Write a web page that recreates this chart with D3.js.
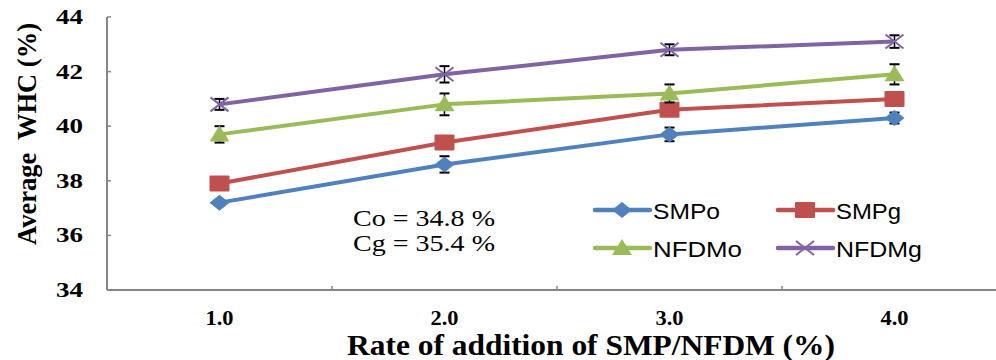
<!DOCTYPE html>
<html>
<head>
<meta charset="utf-8">
<script src="https://cdn.jsdelivr.net/npm/d3@7"></script>
<style>
  body { margin: 0; background: #fff; }
  svg { display: block; }
</style>
</head>
<body>
<svg id="chart" width="996" height="360"></svg>
<script>
// Data
var categories = ["1.0", "2.0", "3.0", "4.0"];
var seriesNames = ["SMPo", "SMPg", "NFDMo", "NFDMg"];
var smpo = [37.2, 38.6, 39.7, 40.3];
var smpg = [37.9, 39.4, 40.6, 41.0];
var nfdmo = [39.7, 40.8, 41.2, 41.9];
var nfdmg = [40.8, 41.9, 42.8, 43.1];
var smpoErr = [0.1, 0.3, 0.25, 0.2];
var smpgErr = [0.1, 0.2, 0.2, 0.2];
var nfdmoErr = [0.3, 0.4, 0.33, 0.37];
var nfdmgErr = [0.2, 0.3, 0.2, 0.23];
var yTicks = [34, 36, 38, 40, 42, 44];
var notes = ["Co = 34.8 %", "Cg = 35.4 %"];

var colors = ["#4F81BD", "#C0504D", "#9BBB59", "#8064A2"];
var series = [
  {name: seriesNames[0], values: smpo, err: smpoErr, color: colors[0], shape: "diamond"},
  {name: seriesNames[1], values: smpg, err: smpgErr, color: colors[1], shape: "square"},
  {name: seriesNames[2], values: nfdmo, err: nfdmoErr, color: colors[2], shape: "triangle"},
  {name: seriesNames[3], values: nfdmg, err: nfdmgErr, color: colors[3], shape: "cross"}
];

var svg = d3.select("#chart");
var plotLeft = 107, plotTop = 17, plotBottom = 290;
var serif = "'Liberation Serif', 'Times New Roman', serif";

var x = d3.scaleBand().domain(categories).range([plotLeft, plotLeft + 900]);
var y = d3.scaleLinear().domain([34, 44]).range([plotBottom, plotTop]);

// Axes
var axisColor = "#868686";
svg.append("line").attr("x1", plotLeft).attr("x2", 996).attr("y1", plotBottom).attr("y2", plotBottom)
  .attr("stroke", axisColor).attr("stroke-width", 2);
svg.append("line").attr("x1", plotLeft).attr("x2", plotLeft).attr("y1", plotTop).attr("y2", plotBottom)
  .attr("stroke", axisColor).attr("stroke-width", 2);

svg.selectAll(".ytick").data(yTicks).enter().append("line")
  .attr("x1", plotLeft).attr("x2", plotLeft + 4).attr("y1", function(d) { return y(d); }).attr("y2", function(d) { return y(d); })
  .attr("stroke", axisColor).attr("stroke-width", 1.5);
svg.selectAll(".ylab").data(yTicks).enter().append("text")
  .attr("x", 83).attr("y", function(d) { return y(d) + 7; })
  .attr("text-anchor", "end")
  .attr("textLength", 27).attr("lengthAdjust", "spacingAndGlyphs")
  .style("font", "bold 20px " + serif)
  .text(function(d) { return d; });

svg.selectAll(".xtick").data(categories.slice(1)).enter().append("line")
  .attr("x1", function(d) { return x(d); }).attr("x2", function(d) { return x(d); })
  .attr("y1", plotBottom - 4).attr("y2", plotBottom)
  .attr("stroke", axisColor).attr("stroke-width", 1.5);
svg.selectAll(".xlab").data(categories).enter().append("text")
  .attr("x", function(d) { return x(d) + x.bandwidth() / 2 - 14; }).attr("y", 325)
  .attr("textLength", 28).attr("lengthAdjust", "spacingAndGlyphs")
  .style("font", "bold 21px " + serif)
  .text(function(d) { return d; });

svg.append("text").attr("x", 347).attr("y", 355)
  .attr("textLength", 488).attr("lengthAdjust", "spacingAndGlyphs")
  .style("font", "bold 29px " + serif)
  .text("Rate of addition of SMP/NFDM (%)");
svg.append("text").attr("transform", "translate(36,245) rotate(-90)")
  .attr("textLength", 222).attr("lengthAdjust", "spacingAndGlyphs")
  .style("font", "bold 27px " + serif)
  .style("white-space", "pre")
  .text("Average  WHC (%)");

// Markers (a little wider than tall, as in the picture)
function drawMarker(g, shape, color, cx, cy) {
  if (shape == "diamond") {
    g.append("path").attr("d", "M" + cx + "," + (cy - 8) + "L" + (cx + 10) + "," + cy + "L" + cx + "," + (cy + 8) + "L" + (cx - 10) + "," + cy + "Z")
      .attr("fill", color);
  } else if (shape == "square") {
    g.append("rect").attr("x", cx - 10).attr("y", cy - 8).attr("width", 20).attr("height", 16).attr("rx", 1).attr("fill", color);
  } else if (shape == "triangle") {
    g.append("path").attr("d", "M" + cx + "," + (cy - 9) + "L" + (cx + 10) + "," + (cy + 7) + "L" + (cx - 10) + "," + (cy + 7) + "Z")
      .attr("fill", color);
  } else {
    g.append("path").attr("d", "M" + (cx - 9) + "," + (cy - 7) + "L" + (cx + 9) + "," + (cy + 7) + "M" + (cx + 9) + "," + (cy - 7) + "L" + (cx - 9) + "," + (cy + 7))
      .attr("stroke", color).attr("stroke-width", 2);
  }
}

var line = d3.line()
  .x(function(d, i) { return x(categories[i]) + x.bandwidth() / 2; })
  .y(function(d) { return y(d); });

series.forEach(function(s) {
  var g = svg.append("g");
  g.append("path").datum(s.values).attr("d", line)
    .attr("fill", "none").attr("stroke", s.color).attr("stroke-width", 4)
    .attr("stroke-linejoin", "round");
  // error bars
  s.values.forEach(function(v, i) {
    var cx = x(categories[i]) + x.bandwidth() / 2;
    var e = s.err[i];
    g.append("line").attr("x1", cx).attr("x2", cx).attr("y1", y(v + e)).attr("y2", y(v - e))
      .attr("stroke", "#000").attr("stroke-width", 1.5);
    [v + e, v - e].forEach(function(t) {
      g.append("line").attr("x1", cx - 5).attr("x2", cx + 5).attr("y1", y(t)).attr("y2", y(t))
        .attr("stroke", "#000").attr("stroke-width", 2);
    });
  });
  s.values.forEach(function(v, i) {
    drawMarker(g, s.shape, s.color, x(categories[i]) + x.bandwidth() / 2, y(v));
  });
});

// Notes
svg.selectAll(".note").data(notes).enter().append("text")
  .attr("x", 353).attr("y", function(d, i) { return 226 + i * 25; })
  .attr("textLength", 142).attr("lengthAdjust", "spacingAndGlyphs")
  .style("font", "24px " + serif)
  .text(function(d) { return d; });

// Legend
var legendPos = [[595, 210], [778, 210], [595, 248], [778, 248]];
var legendTextLen = [67, 65, 89, 86];
series.forEach(function(s, i) {
  var lx = legendPos[i][0], ly = legendPos[i][1];
  var g = svg.append("g");
  g.append("line").attr("x1", lx).attr("x2", lx + 55).attr("y1", ly).attr("y2", ly)
    .attr("stroke", s.color).attr("stroke-width", 4.5).attr("stroke-linecap", "round");
  drawMarker(g, s.shape, s.color, lx + 27, ly);
  g.append("text").attr("x", lx + 58).attr("y", ly + 9)
    .attr("textLength", legendTextLen[i]).attr("lengthAdjust", "spacingAndGlyphs")
    .style("font", "22px 'Liberation Sans', 'Open Sans', sans-serif")
    .text(s.name);
});
</script>
</body>
</html>
